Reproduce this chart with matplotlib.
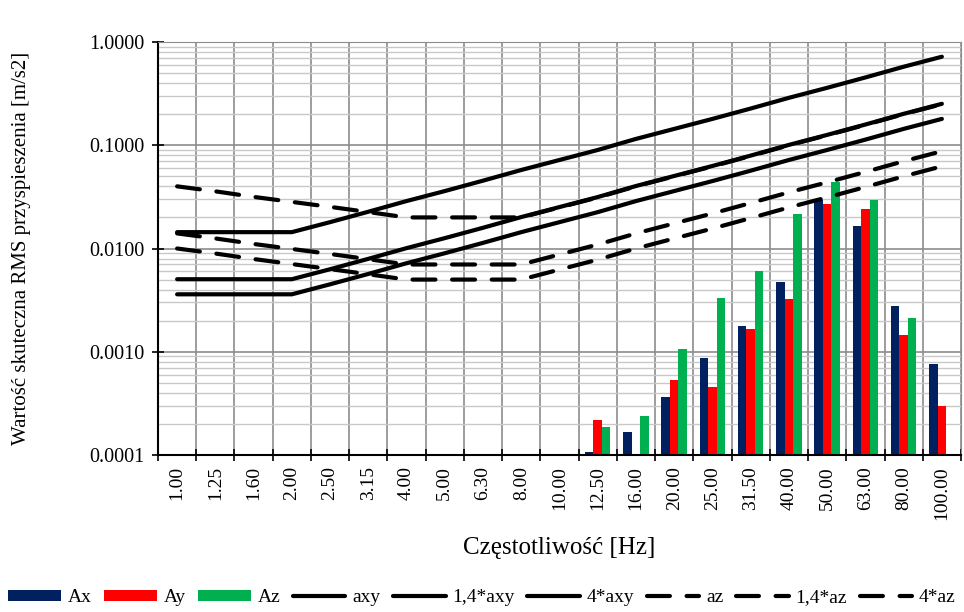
import matplotlib
matplotlib.use("Agg")
import matplotlib.pyplot as plt
import numpy as np
from matplotlib.ticker import FixedLocator, NullFormatter, FuncFormatter

plt.rcParams['font.family'] = ['Liberation Serif', 'DejaVu Serif']

freqs = ['1.00', '1.25', '1.60', '2.00', '2.50', '3.15', '4.00', '5.00', '6.30', '8.00',
         '10.00', '12.50', '16.00', '20.00', '25.00', '31.50', '40.00', '50.00', '63.00',
         '80.00', '100.00']

# measured RMS acceleration (0 = no bar above the axis minimum)
ax_vals = [0, 0, 0, 0, 0, 0, 0, 0, 0, 0, 0, 0.000106, 0.000166, 0.000367, 0.00087,
           0.00176, 0.00477, 0.0295, 0.0166, 0.00277, 0.00076]
ay_vals = [0, 0, 0, 0, 0, 0, 0, 0, 0, 0, 0, 0.000218, 0, 0.000532, 0.000452,
           0.00165, 0.00324, 0.0270, 0.0239, 0.00144, 0.00030]
az_vals = [0, 0, 0, 0, 0, 0, 0, 0, 0, 0, 0, 0.000185, 0.000239, 0.00106, 0.00332,
           0.00605, 0.0216, 0.0443, 0.0295, 0.00212, 0]

# threshold curves
axy = [0.0036, 0.0036, 0.0036, 0.0036, 0.0045, 0.00567, 0.0072, 0.009, 0.01134, 0.0144,
       0.018, 0.0225, 0.0288, 0.036, 0.045, 0.0567, 0.072, 0.09, 0.1134, 0.144, 0.18]
axy_14 = [0.00504, 0.00504, 0.00504, 0.00504, 0.0063, 0.00794, 0.01008, 0.0126, 0.01588,
          0.02016, 0.0252, 0.0315, 0.0403, 0.0504, 0.063, 0.0794, 0.1008, 0.126, 0.1588,
          0.2016, 0.252]
axy_4 = [0.0144, 0.0144, 0.0144, 0.0144, 0.018, 0.0227, 0.0288, 0.036, 0.0454, 0.0576,
         0.072, 0.09, 0.1152, 0.144, 0.18, 0.2268, 0.288, 0.36, 0.4536, 0.576, 0.72]
az = [0.01, 0.00894, 0.00791, 0.00707, 0.00632, 0.00563, 0.005, 0.005, 0.005, 0.005,
      0.00625, 0.0078, 0.01, 0.0125, 0.0156, 0.0197, 0.025, 0.03125, 0.0394, 0.05, 0.0625]
az_14 = [0.014, 0.01252, 0.01107, 0.0099, 0.00885, 0.00788, 0.007, 0.007, 0.007, 0.007,
         0.00875, 0.01092, 0.014, 0.0175, 0.02184, 0.02758, 0.035, 0.04375, 0.05516, 0.07,
         0.0875]
az_4 = [0.04, 0.03578, 0.03162, 0.02828, 0.0253, 0.02254, 0.02, 0.02, 0.02, 0.02,
        0.025, 0.0312, 0.04, 0.05, 0.0624, 0.0788, 0.1, 0.125, 0.1576, 0.2, 0.25]

x = np.arange(len(freqs))
w = 0.222
ymin = 1e-4

fig = plt.figure(figsize=(9.64, 6.12), dpi=100)
ax = fig.add_axes([158 / 964, 1 - 455 / 612, 803 / 964, 413 / 612])
ax.set_yscale('log')
ax.set_ylim(ymin, 1.0)
ax.set_xlim(-0.5, len(freqs) - 0.5)

def bars(vals, off, color, label):
    v = np.array(vals, dtype=float)
    h = np.where(v > ymin, v - ymin, 0)
    return ax.bar(x + off, h, w, bottom=ymin, color=color, label=label, zorder=2)

handles = [bars(ax_vals, -w, '#002060', 'Ax'),
           bars(ay_vals, 0, '#ff0000', 'Ay'),
           bars(az_vals, w, '#00b050', 'Az')]

lw = 3.0
solid = dict(color='black', lw=lw, solid_capstyle='round', zorder=3)
dash = dict(color='black', lw=lw, linestyle=(0, (5.5, 4)), dash_capstyle='round', zorder=3)
handles += ax.plot(x, axy, label='axy', **solid)
handles += ax.plot(x, axy_14, label='1,4*axy', **solid)
handles += ax.plot(x, axy_4, label='4*axy', **solid)
handles += ax.plot(x, az, label='az', **dash)
handles += ax.plot(x, az_14, label='1,4*az', **dash)
handles += ax.plot(x, az_4, label='4*az', **dash)

# grid: decades darker, intermediate values lighter, category boundaries vertical
ax.yaxis.set_major_locator(FixedLocator([1e-4, 1e-3, 1e-2, 1e-1, 1.0]))
ax.yaxis.set_major_formatter(FuncFormatter(lambda v, p: '%.4f' % v))
minors = [m * 10.0 ** e for e in range(-4, 0) for m in range(2, 10)]
ax.yaxis.set_minor_locator(FixedLocator(minors))
ax.yaxis.set_minor_formatter(NullFormatter())
ax.grid(which='major', axis='y', color='#8c8c8c', lw=1.2, zorder=0)
ax.grid(which='minor', axis='y', color='#c8c8c8', lw=1.0, zorder=0)

ax.xaxis.set_major_locator(FixedLocator(np.arange(-0.5, len(freqs), 1.0)))
ax.xaxis.set_major_formatter(NullFormatter())
ax.xaxis.set_minor_locator(FixedLocator(x))
ax.set_xticklabels(freqs, minor=True, rotation=90)
ax.grid(which='major', axis='x', color='#8c8c8c', lw=1.2, zorder=0)
ax.set_axisbelow(True)

ax.tick_params(axis='x', which='major', direction='inout', length=8, width=1.2)
ax.tick_params(axis='x', which='minor', length=0, labelsize=14, pad=8)
ax.tick_params(axis='y', which='major', direction='inout', length=8, width=1.2,
               labelsize=14.5, pad=6)
ax.tick_params(axis='y', which='minor', length=0)

for s in ['top', 'right']:
    ax.spines[s].set_color('#8c8c8c')
for s in ['left', 'bottom']:
    ax.spines[s].set_color('black')
    ax.spines[s].set_linewidth(1.5)

ax.set_xlabel('Częstotliwość [Hz]', fontsize=18)
ax.xaxis.set_label_coords(0.5, -(548 - 455) / 413)
ax.set_ylabel('Wartość skuteczna RMS przyspieszenia [m/s2]', fontsize=15)
ax.yaxis.set_label_coords(-(158 - 22) / 803, 0.5)
ax.xaxis.label.set_va('center')
ax.yaxis.label.set_va('center')

fig.legend(handles=handles, loc='center', bbox_to_anchor=(0.5, 1 - 598 / 612), ncol=9,
           frameon=False, fontsize=14, handlelength=2.7, handleheight=0.5,
           handletextpad=0.35, columnspacing=0.65, borderaxespad=0)

fig.savefig('out.png', dpi=100)
